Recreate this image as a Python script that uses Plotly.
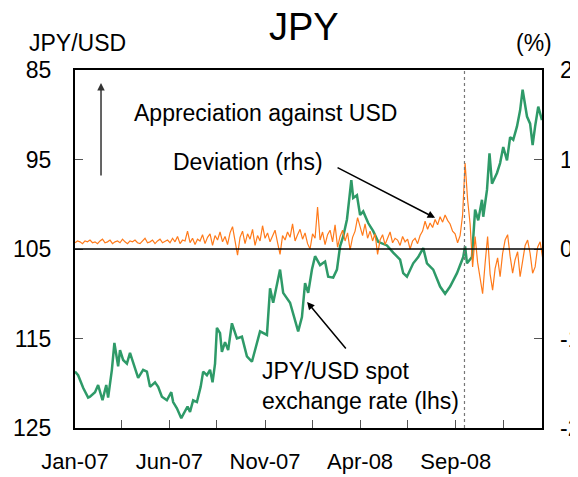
import plotly.graph_objects as go
import pandas as pd

# JPY/USD spot rate (lhs)
spot_dates = ['2007-01-01', '2007-01-06', '2007-01-14', '2007-01-22', '2007-01-25', '2007-02-02', '2007-02-07',
              '2007-02-14', '2007-02-20', '2007-02-23', '2007-03-01', '2007-03-05', '2007-03-11', '2007-03-14',
              '2007-03-19', '2007-03-25', '2007-03-30', '2007-04-07', '2007-04-12', '2007-04-20', '2007-04-26',
              '2007-05-01', '2007-05-09', '2007-05-14', '2007-05-20', '2007-05-28', '2007-06-04', '2007-06-07',
              '2007-06-13', '2007-06-20', '2007-06-26', '2007-06-30', '2007-07-04', '2007-07-09', '2007-07-15',
              '2007-07-21', '2007-07-25', '2007-07-31', '2007-08-05', '2007-08-09', '2007-08-13', '2007-08-16',
              '2007-08-21', '2007-08-24', '2007-08-29', '2007-09-03', '2007-09-09', '2007-09-17', '2007-09-25',
              '2007-10-03', '2007-10-11', '2007-10-19', '2007-10-24', '2007-11-04', '2007-11-09', '2007-11-14',
              '2007-11-25', '2007-11-30', '2007-12-11', '2007-12-24', '2007-12-30', '2008-01-04', '2008-01-09',
              '2008-01-15', '2008-01-20', '2008-01-28', '2008-02-05', '2008-02-10', '2008-02-18', '2008-02-24',
              '2008-02-29', '2008-03-05', '2008-03-11', '2008-03-15', '2008-03-18', '2008-03-21', '2008-03-27',
              '2008-04-01', '2008-04-06', '2008-04-14', '2008-04-22', '2008-04-30', '2008-05-14', '2008-05-24',
              '2008-06-04', '2008-06-09', '2008-06-15', '2008-06-25', '2008-07-03', '2008-07-11', '2008-07-17',
              '2008-07-27', '2008-08-07', '2008-08-15', '2008-08-23', '2008-09-03', '2008-09-13', '2008-09-16',
              '2008-09-19', '2008-09-27', '2008-10-02', '2008-10-07', '2008-10-13', '2008-10-15', '2008-10-21',
              '2008-10-25', '2008-10-29', '2008-11-06', '2008-11-11', '2008-11-16', '2008-11-22', '2008-11-27',
              '2008-12-02', '2008-12-08', '2008-12-13', '2008-12-17', '2008-12-24', '2008-12-29', '2009-01-02',
              '2009-01-06', '2009-01-11', '2009-01-17']
spot_rate = [118.7, 119.1, 120.5, 121.6, 121.5, 121.0, 120.2,
             121.9, 120.2, 121.6, 118.5, 115.5, 118.1, 116.3,
             117.4, 117.8, 116.6, 118.5, 119.4, 118.5, 118.7,
             120.4, 119.9, 120.4, 121.5, 121.9, 121.0, 122.1,
             122.8, 123.9, 123.2, 122.6, 123.2, 121.9, 122.1,
             120.4, 118.7, 119.1, 118.5, 119.9, 117.8, 113.8,
             114.4, 116.5, 115.4, 116.3, 113.3, 115.0, 114.8,
             117.0, 117.6, 115.5, 114.2, 114.6, 109.4, 111.0,
             107.3, 109.9, 111.0, 114.2, 112.6, 108.8, 109.9,
             107.3, 105.8, 106.8, 106.4, 108.1, 108.2, 107.3,
             104.7, 103.6, 101.7, 99.2, 97.3, 99.3, 99.0,
             101.2, 100.8, 102.1, 103.0, 104.2, 104.6, 105.4,
             106.2, 107.7, 108.1, 106.6, 105.9, 104.9, 106.6,
             107.3, 109.2, 110.0, 109.2, 107.7, 105.9, 104.7,
             106.6, 105.9, 100.6, 101.8, 99.5, 101.4, 98.4,
             94.3, 97.7, 96.5, 95.4, 93.6, 95.1, 92.5,
             92.8, 91.3, 89.5, 87.2, 90.2, 91.0, 93.4,
             91.3, 89.1, 90.6]

# deviation in % (rhs), one reading every 4 days from Jan-07
deviation = [0.07, 0.09, 0.08, 0.06, 0.09, 0.08, 0.10, 0.07, 0.08, 0.06,
             0.09, 0.11, 0.07, 0.08, 0.10, 0.06, 0.08, 0.09, 0.07, 0.11,
             0.08, 0.06, 0.09, 0.08, 0.10, 0.07, 0.06, 0.09, 0.12, 0.07,
             0.08, 0.10, 0.06, 0.09, 0.11, 0.07, 0.09,
             0.10, 0.07, 0.12, 0.08, 0.14, 0.06, 0.10, 0.09, 0.20, 0.07,
             0.12, 0.05, 0.11, 0.09, 0.16, 0.06, 0.13, 0.17, 0.04, 0.15,
             0.10, 0.19, 0.08, 0.14, 0.05, 0.18, 0.25, 0.09, -0.07, 0.13,
             0.20, 0.06, 0.17, 0.11, 0.22, 0.04, 0.15, 0.09, 0.26, 0.12,
             0.18, 0.08, 0.14, 0.21, 0.07, -0.06, 0.15, 0.10, 0.19, 0.13,
             0.28, 0.09, 0.16, 0.22, 0.11, 0.18, 0.06, 0.00, 0.17, 0.12,
             0.47, 0.10, 0.19, 0.05, 0.16, 0.21, 0.08, 0.27, 0.02, 0.14,
             0.21, 0.09, 0.18, -0.01, 0.13, 0.20, 0.35, 0.24, 0.15,
             0.28, 0.12, 0.20, 0.09, 0.17, -0.06, 0.10, 0.16, 0.05, 0.13,
             0.19, 0.07, 0.12, 0.10, 0.04, 0.14, 0.08, 0.11, 0.00, 0.09,
             0.12, 0.06, 0.15, 0.20,
             0.31, 0.22, 0.29, 0.24, 0.33, 0.27, 0.36, 0.30, 0.38, 0.32,
             0.28, 0.20, 0.17, 0.07, 0.15, 0.38, 0.96, 0.55, 0.28, -0.20,
             0.14, -0.15, -0.35, -0.50, -0.16, 0.14, -0.28, -0.46, -0.22, -0.10,
             -0.31, -0.05, 0.10, 0.16, -0.08, -0.27, -0.12, -0.03, -0.31, -0.12,
             0.04, 0.10, -0.05, -0.27, -0.20, 0.02, 0.08, -0.10]
dev_dates = pd.date_range('2007-01-01', periods=len(deviation), freq='4D')

tick_dates = ['2007-01-01', '2007-03-17', '2007-06-01', '2007-08-16', '2007-11-01',
              '2008-01-16', '2008-04-01', '2008-06-16', '2008-09-01', '2008-11-16']
tick_text = ['Jan-07', '', 'Jun-07', '', 'Nov-07', '', 'Apr-08', '', 'Sep-08', '']
lhs_ticks = [85, 95, 105, 115, 125]
rhs_ticks = [2, 1, 0, -1, -2]
rhs_text = ['2', '1', '0', '-1', '-2']

fig = go.Figure()
fig.add_trace(go.Scatter(x=spot_dates, y=spot_rate, mode='lines', yaxis='y',
                         line=dict(color='#2E9A68', width=2.5), showlegend=False))
fig.add_trace(go.Scatter(x=dev_dates, y=deviation, mode='lines', yaxis='y2',
                         line=dict(color='#FF7A1A', width=1.2), showlegend=False))

font = dict(family='Liberation Sans, Arial, sans-serif', size=23, color='black')

# page body adds an 8px offset, so the figure is 570x469
fig.update_layout(
    width=570, height=469,
    margin=dict(l=67, r=36, t=62, b=49, autoexpand=False),
    paper_bgcolor='white', plot_bgcolor='white',
    font=font,
    title=dict(text='JPY', x=0.519, xanchor='center', y=0.96, yanchor='middle',
               yref='container', font=dict(size=38, color='black')),
    xaxis=dict(type='date', range=['2007-01-01', '2009-01-17'],
               tickvals=tick_dates, ticktext=tick_text, automargin=False,
               ticks='inside', ticklen=8, tickcolor='#555', tickwidth=1.2,
               showline=True, linecolor='black', linewidth=2, mirror=True,
               showgrid=False, zeroline=False, ticklabelstandoff=13,
               tickfont=dict(size=22)),
    yaxis=dict(range=[125, 85], tickvals=lhs_ticks, automargin=False,
               ticks='inside', ticklen=8, tickcolor='#555', tickwidth=1.2,
               showline=True, linecolor='black', linewidth=2, mirror=True,
               showgrid=False, zeroline=False, ticklabelstandoff=17),
    yaxis2=dict(range=[-2, 2], tickvals=rhs_ticks, ticktext=rhs_text, overlaying='y', side='right',
                automargin=False,
                ticks='inside', ticklen=8, tickcolor='#555', tickwidth=1.2,
                showline=False, showgrid=False, zeroline=False, ticklabelstandoff=17),
)

# zero line and the Sep-08 marker
fig.add_shape(type='line', xref='paper', yref='y2', x0=0, x1=1, y0=0, y1=0,
              line=dict(color='black', width=1.5), layer='above')
fig.add_shape(type='line', xref='x', yref='paper', x0='2008-09-15', x1='2008-09-15', y0=0, y1=1,
              line=dict(color='#777', width=1.2, dash='dot'), layer='above')

# axis titles
fig.add_annotation(text='JPY/USD', xref='paper', yref='paper', x=-0.103, y=1.075,
                   xanchor='left', yanchor='middle', showarrow=False, font=font)
fig.add_annotation(text='(%)', xref='paper', yref='paper', x=1.026, y=1.075,
                   xanchor='right', yanchor='middle', showarrow=False, font=font)

# text labels
fig.add_annotation(text='Appreciation against USD', xref='paper', yref='paper', x=0.122, y=0.88,
                   xanchor='left', yanchor='middle', showarrow=False, font=font)
fig.add_annotation(text='Deviation (rhs)', xref='paper', yref='paper', x=0.206, y=0.743,
                   xanchor='left', yanchor='middle', showarrow=False, font=font)
fig.add_annotation(text='JPY/USD spot<br>exchange rate (lhs)', xref='paper', yref='paper',
                   x=0.396, y=0.117, xanchor='left', yanchor='middle', align='left',
                   showarrow=False, font=font)

# arrows
fig.add_annotation(x=0.0557, y=0.964, ax=0, ay=94, xref='paper', yref='paper', text='',
                   showarrow=True, arrowhead=2, arrowsize=1, arrowwidth=1.5, arrowcolor='#333')
fig.add_annotation(x=0.771, y=0.587, ax=-99, ay=-51, xref='paper', yref='paper', text='',
                   showarrow=True, arrowhead=2, arrowsize=1, arrowwidth=1.5, arrowcolor='black')
fig.add_annotation(x=0.497, y=0.352, ax=40, ay=48, xref='paper', yref='paper', text='',
                   showarrow=True, arrowhead=2, arrowsize=1, arrowwidth=1.5, arrowcolor='black')

fig.write_html("out.html")
